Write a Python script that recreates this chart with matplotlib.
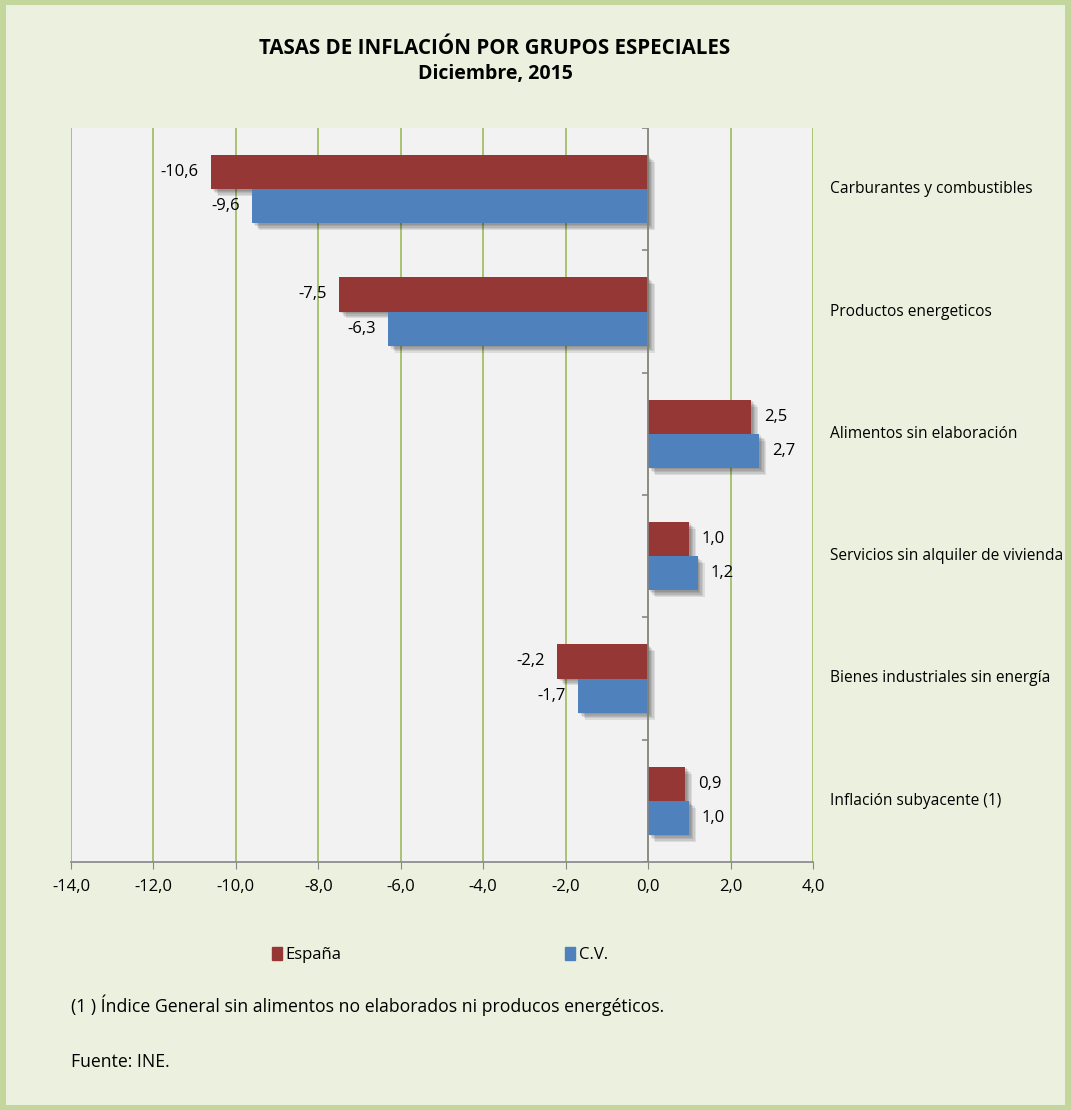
import matplotlib.pyplot as plt
import matplotlib.patheffects as pe
from matplotlib.patches import Rectangle, Patch
import numpy as np

plt.rcParams['font.family'] = ['Open Sans', 'DejaVu Sans']

categories = ["Carburantes y combustibles", "Productos energeticos",
              "Alimentos sin elaboración", "Servicios sin alquiler de vivienda",
              "Bienes industriales sin energía", "Inflación subyacente (1)"]
espana = [-10.6, -7.5, 2.5, 1.0, -2.2, 0.9]
cv = [-9.6, -6.3, 2.7, 1.2, -1.7, 1.0]
xticks = np.arange(-14, 5, 2)

red = "#953735"
blue = "#4F81BD"
grid_green = "#9BBB59"
axis_gray = "#868686"

fig = plt.figure(figsize=(10.71, 11.10), dpi=100)
fig.patch.set_facecolor("#C3D69B")
fig.add_artist(Rectangle((6 / 1071, 5 / 1110), 1 - 12 / 1071, 1 - 10 / 1110,
                         transform=fig.transFigure, facecolor="#EBF1DE",
                         edgecolor="none", zorder=-10))

ax = fig.add_axes([71 / 1071, 1 - 862 / 1110, 742 / 1071, 734 / 1110])
ax.set_facecolor("#F2F2F2")

y = np.arange(len(categories))
h = 0.28
# soft shadow faked with a few stacked translucent copies
shadow = [pe.SimplePatchShadow(offset=(d, -d), shadow_rgbFace="#000000", alpha=0.09)
          for d in (1, 2, 3, 4, 5)] + [pe.Normal()]
b1 = ax.barh(y - h / 2, espana, height=h, color=red, zorder=3, path_effects=shadow)
b2 = ax.barh(y + h / 2, cv, height=h, color=blue, zorder=3, path_effects=shadow)

for bars, vals in ((b1, espana), (b2, cv)):
    for bar, v in zip(bars, vals):
        yc = bar.get_y() + bar.get_height() / 2
        lab = f"{v:.1f}".replace(".", ",")
        if v < 0:
            ax.annotate(lab, (v, yc), xytext=(-9, 0), textcoords="offset points",
                        ha="right", va="center", fontsize=12, zorder=5)
        else:
            ax.annotate(lab, (v, yc), xytext=(9, 0), textcoords="offset points",
                        ha="left", va="center", fontsize=12, zorder=5)

ax.set_xlim(-14, 4)
ax.set_ylim(len(categories) - 0.5, -0.5)
ax.set_xticks(xticks)
ax.set_xticklabels([f"{t:.1f}".replace(".", ",") for t in xticks], fontsize=12)
ax.set_yticks([])
for t in xticks:
    ax.axvline(t, color=grid_green, lw=1.2, zorder=1)

# zero axis with category separators
ax.axvline(0, color=axis_gray, lw=1.2, zorder=4)
bounds = np.arange(len(categories) + 1) - 0.5
ax.hlines(bounds, -0.15, 0, color=axis_gray, lw=1.2, zorder=4)

for s in ("top", "left", "right"):
    ax.spines[s].set_visible(False)
ax.spines["bottom"].set_color(axis_gray)
ax.spines["bottom"].set_linewidth(1.2)
ax.tick_params(axis="x", length=5, color=axis_gray, pad=7)

for yi, c in zip(y, categories):
    ax.text(1 + 17 / 742, yi, c, transform=ax.get_yaxis_transform(),
            ha="left", va="center", fontsize=11.2)

fig.text(495 / 1071, 1 - 48 / 1110, "TASAS DE INFLACIÓN POR GRUPOS ESPECIALES",
         ha="center", va="center", fontsize=14.8, fontweight="bold")
fig.text(495 / 1071, 1 - 74 / 1110, "Diciembre, 2015",
         ha="center", va="center", fontsize=14, fontweight="bold")

handles = [Patch(color=red, label="España"), Patch(color=blue, label="C.V.")]
fig.legend(handles=handles, loc="center", bbox_to_anchor=(440 / 1071, 1 - 955 / 1110),
           ncol=2, frameon=False, fontsize=12, handlelength=0.6, handleheight=0.8,
           handletextpad=0.25, columnspacing=13.4)

fig.text(71 / 1071, 1 - 1005 / 1110,
         "(1 ) Índice General sin alimentos no elaborados ni producos energéticos.",
         ha="left", va="center", fontsize=12.7)
fig.text(71 / 1071, 1 - 1062 / 1110, "Fuente: INE.", ha="left", va="center", fontsize=12.7)

fig.savefig("out.png", dpi=100, facecolor=fig.get_facecolor())
